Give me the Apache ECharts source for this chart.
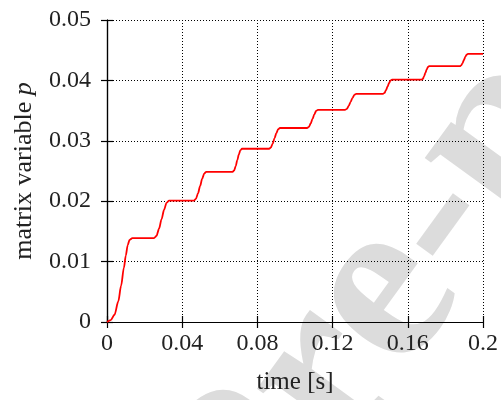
<!DOCTYPE html>
<html>
<head>
<meta charset="utf-8">
<script src="https://cdn.jsdelivr.net/npm/echarts@6/dist/echarts.min.js"></script>
<style>
  html, body { margin: 0; padding: 0; background: #fff; }
  #chart { width: 501px; height: 400px; }
</style>
</head>
<body>
<div id="chart"></div>
<script>
// time samples [s]
const timeValues = [
  0, 0.002, 0.004, 0.006, 0.0075, 0.009, 0.010, 0.011, 0.012, 0.0135,
  0.0250, 0.02633, 0.02767, 0.0290, 0.03033, 0.03167, 0.0330,
  0.0462, 0.0473, 0.0484, 0.0495, 0.0506, 0.0517, 0.0528,
  0.0668, 0.06763, 0.06847, 0.0693, 0.07013, 0.07097, 0.0718,
  0.0862, 0.08717, 0.08813, 0.0891, 0.09007, 0.09103, 0.0920,
  0.1064, 0.10737, 0.10833, 0.1093, 0.11027, 0.11123, 0.1122,
  0.1266, 0.1276, 0.1286, 0.1296, 0.1306, 0.1316, 0.1326,
  0.1468, 0.1476, 0.1484, 0.1492, 0.1500, 0.1508, 0.1516,
  0.1673, 0.16798, 0.16867, 0.16935, 0.17003, 0.17072, 0.1714,
  0.1877, 0.18842, 0.18913, 0.18985, 0.19057, 0.19128, 0.1920,
  0.2
];
// matrix variable p at those times
const pValues = [
  0, 0.0003, 0.0012, 0.0034, 0.0060, 0.0090, 0.0110, 0.0127, 0.0136, 0.01388,
  0.01388, 0.01425, 0.01544, 0.01699, 0.01855, 0.01973, 0.02010,
  0.02010, 0.02039, 0.02129, 0.02249, 0.02368, 0.02458, 0.02487,
  0.02487, 0.02510, 0.02582, 0.02678, 0.02773, 0.02845, 0.02868,
  0.02868, 0.02889, 0.02954, 0.03040, 0.03126, 0.03191, 0.03212,
  0.03212, 0.03230, 0.03287, 0.03362, 0.03437, 0.03494, 0.03512,
  0.03512, 0.03528, 0.03579, 0.03645, 0.03712, 0.03762, 0.03778,
  0.03778, 0.03792, 0.03837, 0.03895, 0.03954, 0.03998, 0.04012,
  0.04012, 0.04025, 0.04068, 0.04124, 0.04180, 0.04223, 0.04236,
  0.04236, 0.04248, 0.04287, 0.04338, 0.04389, 0.04428, 0.04440,
  0.04440
];
const xTickLabels = ['0', '0.04', '0.08', '0.12', '0.16', '0.2'];
const yTickLabels = ['0', '0.01', '0.02', '0.03', '0.04', '0.05'];

const serif = '"Liberation Serif", "DejaVu Serif", serif';
const textColor = '#222';

const points = timeValues.map((t, i) => [t, pValues[i]]);

const baseX = { type: 'value', min: 0, max: 0.2, interval: 0.04 };
const baseY = { type: 'value', min: 0, max: 0.05, interval: 0.01 };
const frameLine = { show: true, lineStyle: { color: '#000', width: 1.2 } };
const innerTicks = { show: true, inside: true, length: 6, lineStyle: { color: '#000', width: 1.2 } };
const gridDots = { show: true, lineStyle: { color: '#000', width: 1, type: [1, 2] } };

const chart = echarts.init(document.getElementById('chart'), null, { renderer: 'canvas' });
chart.setOption({
  animation: false,
  backgroundColor: '#fff',
  grid: { left: 107, right: 18, top: 20, bottom: 78, containLabel: false },
  graphic: {
    elements: [{
      // diagonal watermark behind the plot
      type: 'text',
      z: -100,
      x: 206,
      y: 541,
      rotation: 54 * Math.PI / 180,
      silent: true,
      style: {
        text: 'Pre-print',
        font: 'bold 240px ' + serif,
        fill: '#dcdcdc',
        textAlign: 'left',
        textVerticalAlign: 'middle'
      }
    }]
  },
  xAxis: [
    Object.assign({}, baseX, {
      position: 'bottom',
      name: 'time [s]',
      nameLocation: 'middle',
      nameGap: 48,
      nameTextStyle: { fontFamily: serif, fontSize: 25, color: textColor },
      axisLine: frameLine,
      axisTick: innerTicks,
      axisLabel: {
        margin: 10, fontFamily: serif, fontSize: 24, color: textColor,
        formatter: (v, i) => xTickLabels[i]
      },
      splitLine: gridDots
    }),
    Object.assign({}, baseX, {
      position: 'top',
      axisLine: frameLine,
      axisTick: innerTicks,
      axisLabel: { show: false },
      splitLine: { show: false }
    })
  ],
  yAxis: [
    Object.assign({}, baseY, {
      position: 'left',
      name: '{n|matrix variable }{p|p}',
      nameLocation: 'middle',
      nameGap: 70,
      nameRotate: 90,
      nameTextStyle: {
        rich: {
          n: { fontFamily: serif, fontSize: 26, color: textColor },
          p: { fontFamily: serif, fontSize: 26, fontStyle: 'italic', color: textColor }
        }
      },
      axisLine: frameLine,
      axisTick: innerTicks,
      axisLabel: {
        margin: 16, fontFamily: serif, fontSize: 24, color: textColor,
        formatter: (v, i) => yTickLabels[i]
      },
      splitLine: gridDots
    }),
    Object.assign({}, baseY, {
      position: 'right',
      axisLine: frameLine,
      axisTick: innerTicks,
      axisLabel: { show: false },
      splitLine: { show: false }
    })
  ],
  series: [{
    type: 'line',
    data: points,
    xAxisIndex: 0,
    yAxisIndex: 0,
    showSymbol: false,
    smooth: 0.3,
    smoothMonotone: 'x',
    clip: true,
    lineStyle: { color: '#ff0000', width: 1.8 }
  }]
});
</script>
</body>
</html>
